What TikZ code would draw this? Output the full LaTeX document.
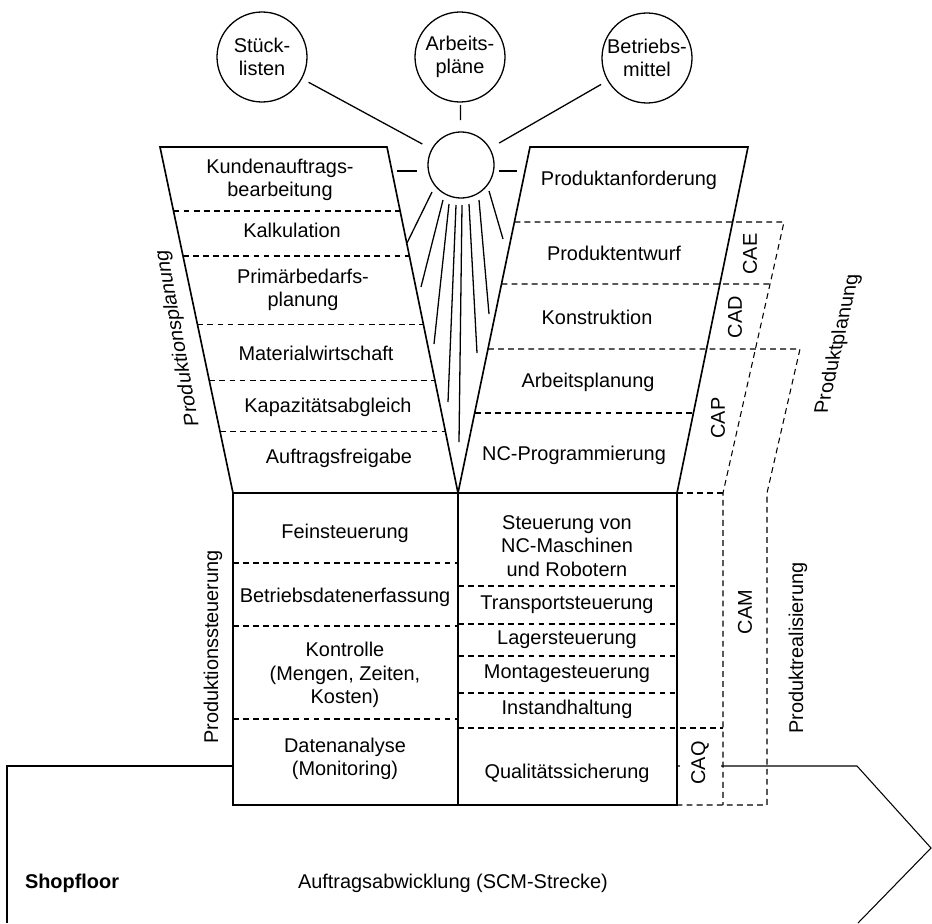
\documentclass[tikz,border=0pt]{standalone}
\usepackage{fontspec}
\setmainfont{Liberation Sans}
\usetikzlibrary{calc}
\tikzstyle{lbl}=[font=\fontsize{17}{20}\selectfont, align=center, inner sep=0, outer sep=0]
\tikzstyle{vlbl}=[lbl, rotate=90]
\tikzstyle{bubble}=[draw, circle, line width=1.1pt, inner sep=0, outer sep=0, minimum size=2.7cm]
\tikzstyle{ray}=[line width=1.1pt]
\tikzstyle{edge}=[line width=1.4pt, line join=miter]
\tikzstyle{frame}=[line width=1.8pt]
\tikzstyle{sep}=[line width=0.9pt, dash pattern=on 5pt off 3.6pt]
\tikzstyle{floor}=[line width=0.9pt]
\begin{document}
\begin{tikzpicture}[x=0.03cm, y=-0.03cm]
        \useasboundingbox (0,0) rectangle (932,923);
        % Datenquellen und Sonne
        \node[bubble] (stl) at (262,57) {};
        \node[bubble] (apl) at (460,57) {};
        \node[bubble] (bm) at (647,58) {};
        \node[lbl] (stltext) at (stl) {Stück-\\listen};
        \node[lbl] (apltext) at (apl) {Arbeits-\\pläne};
        \node[lbl] (bmtext) at (bm) {Betriebs-\\mittel};
        \node[bubble, minimum size=1.98cm] (sun) at (461,165) {};
        \draw[ray, shorten <=0.24cm, shorten >=0.33cm] (stl) -- (sun);
        \draw[ray, shorten <=0.09cm, shorten >=0.36cm] (apl) -- (sun);
        \draw[ray, shorten <=0.24cm, shorten >=0.33cm] (bm) -- (sun);
        \foreach \xa/\ya/\xb/\yb in {397/171/417/171, 499/171/517/171,
            432/192/407/243, 443/200/421/287, 449/204/434/344, 456/205/448/402,
            462/205/459/442, 469/204/477/353, 479/200/489/314, 489/191/503/239}
            \draw[ray] (\xa,\ya) -- (\xb,\yb);
        % Trichter
        \coordinate (plt) at (160,147);
        \coordinate (prt) at (387,147);
        \coordinate (plb) at (233,493);
        \coordinate (apex) at (458,493);
        \coordinate (klt) at (530,147);
        \coordinate (krt) at (748,147);
        \coordinate (krb) at (677,493);
        \draw[edge] (plb) -- (plt) -- (prt) -- (apex);
        \draw[edge] (apex) -- (klt) -- (krt) -- (krb);
        \foreach \t in {0.185,0.315,0.512,0.676,0.821}
            \draw[sep] ($(plt)!\t!(plb)$) -- ($(prt)!\t!(apex)$);
        \draw[sep] ($(klt)!0.2168!(apex)$) -- (784,222) -- (723,493) -- (723,805);
        \draw[sep] ($(klt)!0.3960!(apex)$) -- (770,284);
        \draw[sep] ($(klt)!0.5838!(apex)$) -- (800,349) -- (767,493) -- (767,805) -- (677,805);
        \draw[sep] ($(klt)!0.7688!(apex)$) -- ($(krt)!0.7688!(krb)$);
        \node[lbl] (kab) at (280,180) {Kundenauftrags-\\bearbeitung};
        \node[lbl] (kal) at (292,230) {Kalkulation};
        \node[lbl] (pbp) at (303,290) {Primärbedarfs-\\planung};
        \node[lbl] (mw) at (316,353) {Materialwirtschaft};
        \node[lbl] (ka) at (328,407) {Kapazitätsabgleich};
        \node[lbl] (af) at (339,458) {Auftragsfreigabe};
        \node[lbl] (pa) at (629,180) {Produktanforderung};
        \node[lbl] (pe) at (614,253) {Produktentwurf};
        \node[lbl] (ko) at (597,317) {Konstruktion};
        \node[lbl] (ap) at (588,382) {Arbeitsplanung};
        \node[lbl] (nc) at (574,455) {NC-Programmierung};
        % Shopfloor
        \draw[floor] (233,766) -- (7,766) -- (7,923);
        \draw[floor] (677,766) -- (857,766) -- (931,848) -- (858,923);
        \node[lbl, font=\fontsize{17}{20}\selectfont\bfseries, anchor=west] (sf) at (25,883) {Shopfloor};
        \node[lbl, anchor=west] (scm) at (298,883) {Auftragsabwicklung (SCM-Strecke)};
        % Steuerung
        \foreach \y in {563,626,719}
            \draw[sep] (233,\y) -- (458,\y);
        \foreach \y in {586,624,656,693}
            \draw[sep] (458,\y) -- (677,\y);
        \draw[sep] (458,728) -- (723,728);
        \draw[sep] (677,493) -- (723,493);
        \draw[frame] (233,493) rectangle (677,805);
        \draw[frame] (458,493) -- (458,805);
        \node[lbl] (fs) at (345,533) {Feinsteuerung};
        \node[lbl] (bde) at (345,597) {Betriebsdatenerfassung};
        \node[lbl] (kon) at (345,675) {Kontrolle\\(Mengen, Zeiten,\\Kosten)};
        \node[lbl] (da) at (345,759) {Datenanalyse\\(Monitoring)};
        \node[lbl] (nsr) at (567,546) {Steuerung von\\NC-Maschinen\\und Robotern};
        \node[lbl] (ts) at (567,605) {Transportsteuerung};
        \node[lbl] (ls) at (567,640) {Lagersteuerung};
        \node[lbl] (ms) at (567,674) {Montagesteuerung};
        \node[lbl] (ih) at (567,709) {Instandhaltung};
        \node[lbl] (qs) at (567,773) {Qualitätssicherung};
        % Bereiche
        \node[vlbl, yslant=0.18] (pp) at (178,338) {Produktionsplanung};
        \node[vlbl] (pst) at (213,647) {Produktionssteuerung};
        \node[vlbl] (cae) at (750,254) {CAE};
        \node[vlbl] (cad) at (735,317) {CAD};
        \node[vlbl] (cap) at (718,418) {CAP};
        \node[vlbl] (cam) at (745,612) {CAM};
        \node[vlbl, fill=white, inner ysep=0.35cm] (caq) at (700,763) {CAQ};
        \node[vlbl, yslant=-0.225] (pl) at (838,344) {Produktplanung};
        \node[vlbl] (pr) at (798,648) {Produktrealisierung};
    \end{tikzpicture}
\end{document}
